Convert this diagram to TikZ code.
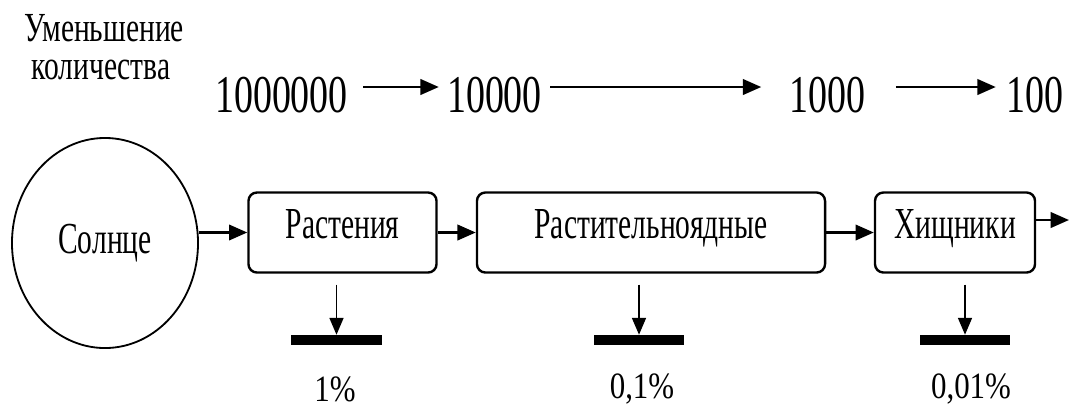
\documentclass[tikz,border=0pt]{standalone}
\usepackage{fontspec}
\setmainfont{Liberation Serif}
\usepackage{graphicx}
\usetikzlibrary{arrows.meta,shapes.geometric,positioning,calc}

\newcommand{\tall}[2]{\scalebox{1}[#1]{#2}}

\begin{document}
\begin{tikzpicture}[
    x=0.025cm, y=-0.025cm,
    heading/.style={inner sep=0pt, font=\fontsize{21}{24}\selectfont},
    amount/.style={inner sep=0pt, font=\fontsize{27}{30}\selectfont},
    stage/.style={draw, line width=1.7pt, rounded corners=6pt, minimum height=2cm,
        inner sep=0pt, text height=21pt, text depth=13pt, font=\fontsize{21}{24}\selectfont},
    sun/.style={draw, ellipse, line width=1.3pt, minimum width=4.65cm, minimum height=5.25cm,
        inner sep=0pt, font=\fontsize{21}{24}\selectfont},
    sink/.style={fill=black, minimum width=2.25cm, minimum height=0.25cm, inner sep=0pt},
    percent/.style={inner sep=0pt, font=\fontsize{22}{24}\selectfont},
    flow/.style={-{Triangle[length=13pt,width=11pt]}, line width=1.7pt},
    loss/.style={-{Triangle[length=12pt,width=10pt]}, line width=1pt}
]

\useasboundingbox (0,0) rectangle (1070,410);

% Heading
\node[heading] (head-1) at (104,28) {\tall{1.4}{Уменьшение}};
\node[heading] (head-2) at (101,70) {\tall{1.4}{количества}};

% Amounts
\node[amount] (N-1) at (281.5,95) {\tall{1.4}{1000000}};
\node[amount] (N-2) at (494.5,95) {\tall{1.4}{10000}};
\node[amount] (N-3) at (827.5,95) {\tall{1.4}{1000}};
\node[amount] (N-4) at (1034.5,95) {\tall{1.4}{100}};

\draw[flow] ($(N-1.east)+(15,-8)$) -- ($(N-2.west)+(-8,-8)$);
\draw[flow] ($(N-2.east)+(8,-8)$) -- ($(N-3.west)+(-28,-8)$);
\draw[flow] ($(N-3.east)+(30,-8)$) -- ($(N-4.west)+(-10,-8)$);

% Chain
\node[sun] (sun) at (105,243) {\tall{1.5}{Солнце}};
\node[stage, minimum width=4.7cm] (plants) at (342.5,232.5) {\tall{1.5}{Растения}};
\node[stage, minimum width=8.7cm] (herbivores) at (651,232.5) {\tall{1.5}{Растительноядные}};
\node[stage, minimum width=4cm] (predators) at (955,232.5) {\tall{1.5}{Хищники}};
\coordinate (next) at (1069,220);

\draw[flow] (sun.east |- plants.west) -- (plants.west);
\draw[flow] (plants.east) -- (herbivores.west);
\draw[flow] (herbivores.east) -- (predators.west);
\draw[flow] (predators.east |- next) -- (next);

% Losses
\foreach \s/\bx/\px/\p [count=\i] in {plants/336.5/335/1\%,
        herbivores/639/642/{0,1\%}, predators/965/971/{0,01\%}} {
    \node[sink] (sink-\i) at (\bx,340) {};
    \draw[loss] ($(\s.south -| sink-\i)+(0,11)$) -- (sink-\i.north);
    \node[percent] (pct-\i) at (\px,389) {\tall{1.2}{\p}};
}

\end{tikzpicture}
\end{document}
